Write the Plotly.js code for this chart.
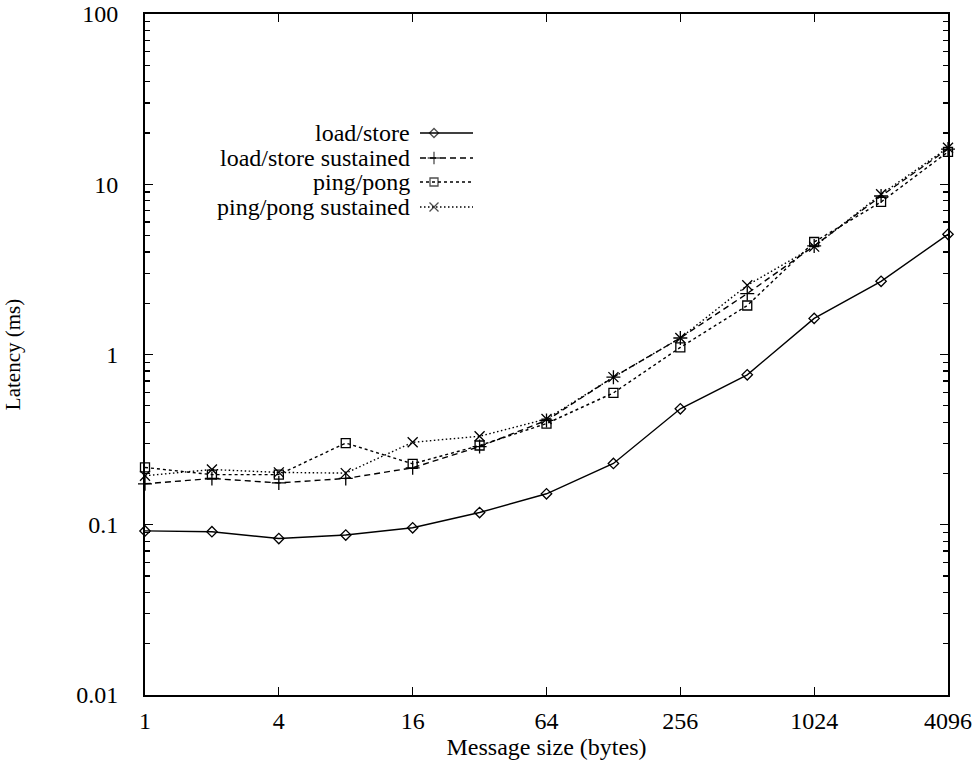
<!DOCTYPE html>
<html>
<head>
<meta charset="utf-8">
<script src="https://cdn.plot.ly/plotly-3.0.1.min.js"></script>
<style>html,body{margin:0;padding:0;background:#fff;}#chart{width:977px;height:761px;}</style>
</head>
<body>
<div id="chart"></div>
<script>
// ---- data ----
var msgSize = [1, 2, 4, 8, 16, 32, 64, 128, 256, 512, 1024, 2048, 4096];
var loadStore = [0.092, 0.091, 0.083, 0.087, 0.096, 0.118, 0.152, 0.229, 0.48, 0.76, 1.63, 2.69, 5.08];
var loadStoreSustained = [0.174, 0.187, 0.176, 0.187, 0.216, 0.288, 0.41, 0.736, 1.25, 2.28, 4.34, 8.53, 16.1];
var pingPong = [0.217, 0.197, 0.197, 0.302, 0.228, 0.292, 0.393, 0.595, 1.10, 1.94, 4.58, 7.87, 15.5];
var pingPongSustained = [0.194, 0.211, 0.203, 0.201, 0.305, 0.331, 0.418, 0.736, 1.25, 2.55, 4.30, 8.73, 16.4];
var seriesNames = ["load/store", "load/store sustained", "ping/pong", "ping/pong sustained"];
var xTicks = [1, 4, 16, 64, 256, 1024, 4096];
var yTicks = [0.01, 0.1, 1, 10, 100];
var yTickText = ["0.01", "0.1", "1", "10", "100"];

// ---- styles ----
var FONT = "'Liberation Serif', 'Times New Roman', Times, serif";
var FS = 24;
var styles = [
  {dash: "solid", symbol: "diamond-open", size: 8},
  {dash: "6px,4px", symbol: "cross-thin-open", size: 10},
  {dash: "3px,3px", symbol: "square-open", size: 9},
  {dash: "1.5px,2.5px", symbol: "x-thin-open", size: 10}
];
var allSeries = [loadStore, loadStoreSustained, pingPong, pingPongSustained];

var traces = allSeries.map(function (ys, i) {
  return {
    x: msgSize, y: ys, type: "scatter", mode: "lines+markers",
    name: seriesNames[i], showlegend: false,
    line: {color: "#000", width: 1.4, dash: styles[i].dash},
    marker: {symbol: styles[i].symbol, size: styles[i].size, color: "#000", line: {color: "#000", width: 1.3}},
    xaxis: "x", yaxis: "y", cliponaxis: false
  };
});

// ---- custom gnuplot-style key (text right, sample on the right) on pixel overlay axes ----
var keyTextRight = 412, keyX0 = 420, keyX1 = 473, keyMarkX = 434;
var keyRows = [133, 158, 182, 207];
var annotations = [];
seriesNames.forEach(function (n, i) {
  traces.push({
    x: [keyX0, keyMarkX, keyX1], y: [keyRows[i], keyRows[i], keyRows[i]],
    type: "scatter", mode: "lines+markers", showlegend: false, hoverinfo: "skip",
    line: {color: "#000", width: 1.4, dash: styles[i].dash},
    marker: {symbol: styles[i].symbol, size: [0, styles[i].size - 1, 0], color: "#000", line: {color: "#000", width: 1.3}},
    xaxis: "x2", yaxis: "y2"
  });
  annotations.push({
    x: keyTextRight, y: keyRows[i], xref: "x2", yref: "y2", text: n,
    showarrow: false, xanchor: "right", yanchor: "middle",
    font: {family: FONT, size: FS, color: "#000"}
  });
});

var L = 145, R = 948, T = 14, B = 695, W = 977, H = 761;

var layout = {
  width: W, height: H,
  margin: {l: L, r: W - R, t: T, b: H - B, pad: 0},
  paper_bgcolor: "#fff", plot_bgcolor: "#fff",
  font: {family: FONT, size: FS, color: "#000"},
  showlegend: false,
  xaxis: {
    type: "log", range: [0, Math.log10(4096)],
    tickvals: xTicks, ticktext: xTicks.map(String),
    ticks: "inside", ticklen: 8, tickwidth: 1.3, tickcolor: "#000",
    showline: true, linewidth: 2, linecolor: "#000", mirror: "ticks",
    showgrid: false, zeroline: false,
    tickfont: {family: FONT, size: FS},
    ticklabelstandoff: 3,
    title: {text: "Message size (bytes)", font: {family: FONT, size: FS}, standoff: 0}
  },
  yaxis: {
    type: "log", range: [-2, 2],
    tickvals: yTicks, ticktext: yTickText,
    ticks: "inside", ticklen: 8, tickwidth: 1.3, tickcolor: "#000",
    minor: {ticks: "inside", ticklen: 5, tickwidth: 1.3, tickcolor: "#000", dtick: "D1", showgrid: false},
    showline: true, linewidth: 2, linecolor: "#000", mirror: "ticks",
    showgrid: false, zeroline: false,
    tickfont: {family: FONT, size: FS},
    ticklabelstandoff: 20,
    title: {text: "Latency (ms)", font: {family: FONT, size: 21}, standoff: 50}
  },
  xaxis2: {overlaying: "x", range: [L, R], visible: false, fixedrange: true},
  yaxis2: {overlaying: "y", range: [B, T], visible: false, fixedrange: true},
  annotations: annotations
};

Plotly.newPlot("chart", traces, layout, {staticPlot: true, displayModeBar: false});
</script>
</body>
</html>
